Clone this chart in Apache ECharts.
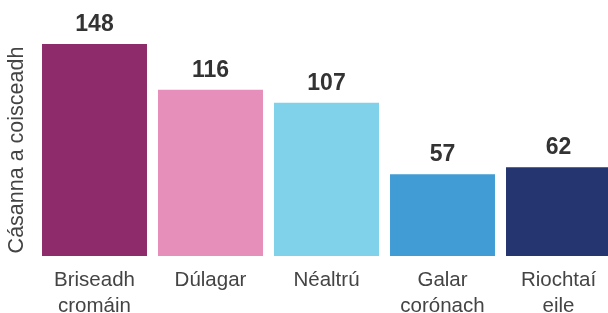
<!DOCTYPE html>
<html><head><meta charset="utf-8">
<script src="https://cdn.jsdelivr.net/npm/echarts@6/dist/echarts.min.js"></script>
<style>html,body{margin:0;padding:0;background:#fff}#c{width:608px;height:313px}</style>
</head><body><div id="c"></div>
<script>
const categories = ["Briseadh\ncromáin", "Dúlagar", "Néaltrú", "Galar\ncorónach", "Riochtaí\neile"];
const values = [148, 116, 107, 57, 62];
const colors = ["#8E2B6B", "#E68FBB", "#7FD2EA", "#419CD6", "#25356F"];
const yTitle = "Cásanna a coisceadh";

const chart = echarts.init(document.getElementById('c'), null, {renderer: 'canvas'});
chart.setOption({
  animation: false,
  backgroundColor: '#fff',
  grid: {left: 36.5, top: 44, width: 580, bottom: 57, containLabel: false, outerBoundsMode: 'none'},
  xAxis: {
    type: 'category', data: categories,
    axisLine: {show: false}, axisTick: {show: false},
    axisLabel: {color: '#444', fontSize: 20.5, fontFamily: 'Liberation Sans, Arial, sans-serif', lineHeight: 25.5, margin: 12, interval: 0}
  },
  yAxis: {
    type: 'value', min: 0, max: 148,
    axisLine: {show: false}, axisTick: {show: false}, axisLabel: {show: false}, splitLine: {show: false},
    name: yTitle, nameLocation: 'middle', nameGap: 8,
    nameTextStyle: {color: '#444', fontSize: 21.5, fontFamily: 'Liberation Sans, Arial, sans-serif'}
  },
  series: [{
    type: 'bar', barCategoryGap: '9.5%',
    data: values.map((v, i) => ({value: v, itemStyle: {color: colors[i]}})),
    label: {show: true, position: 'top', distance: 8, color: '#333', fontSize: 23, fontWeight: 'bold', fontFamily: 'Liberation Sans, Arial, sans-serif'}
  }]
});
</script></body></html>
